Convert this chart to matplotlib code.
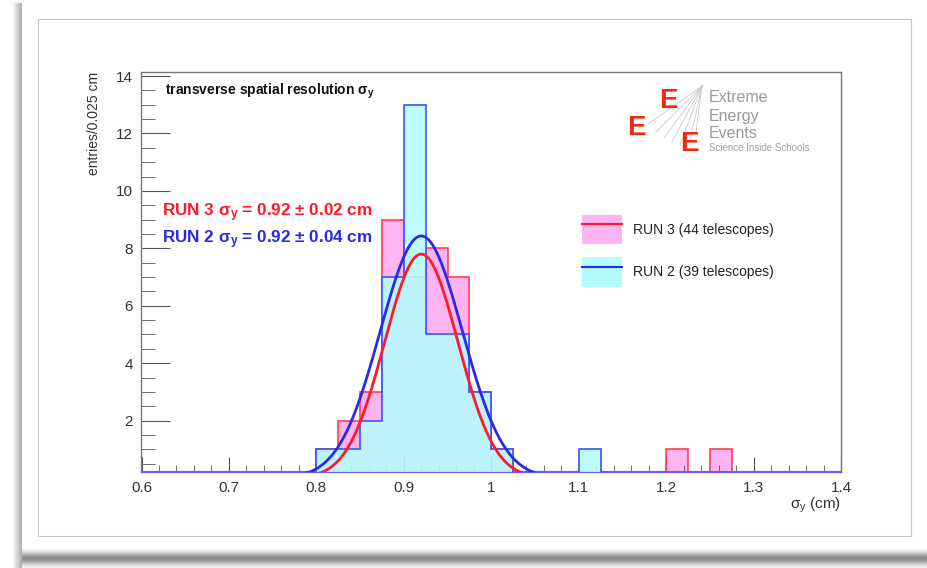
import numpy as np
import matplotlib
matplotlib.use("Agg")

import matplotlib.pyplot as plt
from matplotlib.patches import Patch, Rectangle
from matplotlib.lines import Line2D
from matplotlib.ticker import MultipleLocator

plt.rcParams["font.family"] = ["Liberation Sans", "DejaVu Sans"]
plt.rcParams["mathtext.fontset"] = "custom"
plt.rcParams["mathtext.rm"] = "Liberation Sans"
plt.rcParams["mathtext.bf"] = "Liberation Sans:bold"

# ---------- DATA ----------
# bins of 0.025 cm from 0.6 to 1.4
bin_width = 0.025
bin_lo, bin_hi = 0.6, 1.4

run3_bin_starts = [0.800, 0.825, 0.850, 0.875, 0.900, 0.925, 0.950, 0.975, 1.000, 1.200, 1.250]
run3_counts     = [1,     2,     3,     9,     7,     8,     7,     3,     1,     1,     1]

run2_bin_starts = [0.800, 0.825, 0.850, 0.875, 0.900, 0.925, 0.950, 0.975, 1.000, 1.100]
run2_counts     = [1,     1,     2,     7,     13,    5,     5,     3,     1,     1]

# gaussian fits: (constant, mean, sigma)
run3_fit = (7.8, 0.92, 0.042)
run2_fit = (8.43, 0.92, 0.047)

run3_label = "RUN 3 (44 telescopes)"
run2_label = "RUN 2 (39 telescopes)"
sig_y = r"$\mathregular{\sigma_{y}}$"
run3_text = "RUN 3 " + sig_y + " = 0.92 \u00b1 0.02 cm"
run2_text = "RUN 2 " + sig_y + " = 0.92 \u00b1 0.04 cm"

# ---------- THEME ----------
PINK_FILL = "#ffb4f2"
CYAN_FILL = "#b4fcfc"
RED = "#ff1a2a"
BLUE = "#2a2ae6"
RED_EDGE = "#ff4050"
BLUE_EDGE = "#4050ff"

W, H = 928, 568
fig = plt.figure(figsize=(W / 100, H / 100), dpi=100)

# ---------- CARD + SHADOW ----------
bg = fig.add_axes([0, 0, 1, 1], zorder=0)
img = np.ones((H, W, 3))
rows = np.arange(H)
# bottom shadow band
band = (rows >= 549)
shade = np.clip(1 - 0.45 * np.exp(-((rows - 558) / 6.0) ** 2), 0, 1)
img[band, 22:, :] = shade[band][:, None, None]
# left shadow strip
for c in range(12, 22):
    img[:, c, :] = np.minimum(img[:, c, :], 1 - 0.35 * (c - 12) / 10)
img[0:3, 12:22, :] = 1.0
bg.imshow(img, extent=(0, W, H, 0), aspect="auto", interpolation="bilinear")
bg.set_xlim(0, W)
bg.set_ylim(H, 0)
bg.axis("off")
bg.add_patch(Rectangle((38, 19), 873, 517, fill=False, edgecolor="#c8c8c8", lw=0.8))

# ---------- LOGO ----------
fan_origin = (702, 86)
for tx, ty in [(648, 124), (656, 132), (664, 138), (672, 142), (680, 145), (690, 140), (696, 132)]:
    bg.add_line(Line2D([fan_origin[0], tx], [fan_origin[1], ty], color="#c8c8c8", lw=0.6))
for ex, ey in [(668, 101), (636, 128), (689, 144)]:
    bg.text(ex, ey, "E", color="#f02a10", fontsize=20, fontweight="bold",
            ha="center", va="center")
for word, wy in [("Extreme", 97), ("Energy", 116), ("Events", 134)]:
    bg.text(709, wy, word, color="#9a9a9a", fontsize=11.5, ha="left", va="center")
bg.text(709, 148, "Science Inside Schools", color="#a0a0a0", fontsize=7, ha="left", va="center")

# ---------- HISTOGRAMS ----------
ax = fig.add_axes([141.5 / W, 1 - 472.3 / H, (841 - 141.5) / W, (472.3 - 71.7) / H], zorder=1)
ax.patch.set_alpha(0)

edges = np.round(np.arange(bin_lo, bin_hi + bin_width / 2, bin_width), 4)


def fill_bins(starts, counts):
    vals = np.zeros(len(edges) - 1)
    for s, n in zip(starts, counts):
        vals[int(round((s - bin_lo) / bin_width))] = n
    return vals


run3_vals = fill_bins(run3_bin_starts, run3_counts)
run2_vals = fill_bins(run2_bin_starts, run2_counts)

ax.stairs(run3_vals, edges, fill=True, color=PINK_FILL, zorder=1)
ax.stairs(run3_vals, edges, color=RED_EDGE, lw=1.2, zorder=2)
ax.stairs(run2_vals, edges, fill=True, color=CYAN_FILL, alpha=0.88, zorder=3)
ax.stairs(run2_vals, edges, color=BLUE_EDGE, lw=1.2, zorder=4)

# ---------- FITS ----------
xs = np.linspace(0.75, 1.1, 400)
for (amp, mu, sig), col in [(run3_fit, RED), (run2_fit, BLUE)]:
    ax.plot(xs, amp * np.exp(-0.5 * ((xs - mu) / sig) ** 2), color=col, lw=2.0, zorder=5)

# ---------- AXES ----------
ax.set_xlim(bin_lo, bin_hi)
ax.set_ylim(0.2, 14.15)
ax.xaxis.set_minor_locator(MultipleLocator(0.02))
ax.yaxis.set_minor_locator(MultipleLocator(0.5))
ax.set_yticks([2, 4, 6, 8, 10, 12, 14])
ax.set_xticks(np.round(np.arange(0.6, 1.41, 0.1), 1))
ax.set_xticklabels(["0.6", "0.7", "0.8", "0.9", "1", "1.1", "1.2", "1.3", "1.4"])
ax.tick_params(which="both", direction="in", colors="#555555", labelcolor="#333333",
               labelsize=11, top=False, right=False)
ax.tick_params(axis="x", which="major", length=11, pad=6)
ax.tick_params(axis="x", which="minor", length=5)
ax.tick_params(axis="y", which="major", length=21, pad=6)
ax.tick_params(axis="y", which="minor", length=10)
for s in ["top", "right", "left"]:
    ax.spines[s].set_color("#777777")
    ax.spines[s].set_linewidth(1.0)
ax.spines["bottom"].set_color("#6a5cff")
ax.spines["bottom"].set_linewidth(1.6)

ax.set_ylabel("entries/0.025 cm", fontsize=10, color="#333333", loc="top", labelpad=11)
ax.set_xlabel(sig_y + " (cm)", fontsize=11, color="#333333", loc="right", labelpad=1)

ax.text(0.033, 0.975, "transverse spatial resolution " + sig_y, transform=ax.transAxes,
        fontsize=10, fontweight="bold", color="#111111", ha="left", va="top")
ax.text(0.029, 0.648, run3_text, transform=ax.transAxes, fontsize=12.3, fontweight="bold",
        color=RED, ha="left", va="center")
ax.text(0.029, 0.580, run2_text, transform=ax.transAxes, fontsize=12.3, fontweight="bold",
        color=BLUE, ha="left", va="center")

# ---------- LEGEND ----------
handles = [(Patch(facecolor=PINK_FILL, edgecolor="none"), Line2D([], [], color=RED, lw=1.5)),
           (Patch(facecolor=CYAN_FILL, edgecolor="none"), Line2D([], [], color=BLUE, lw=1.5))]
fig.legend(handles, [run3_label, run2_label], loc="upper left",
           bbox_to_anchor=(582 / W, 1 - 215 / H), frameon=False, fontsize=10,
           handlelength=2.9, handleheight=2.87, handletextpad=0.75, labelspacing=0.94,
           borderpad=0, borderaxespad=0, labelcolor="#222222")

fig.savefig("out.png", dpi=100)
